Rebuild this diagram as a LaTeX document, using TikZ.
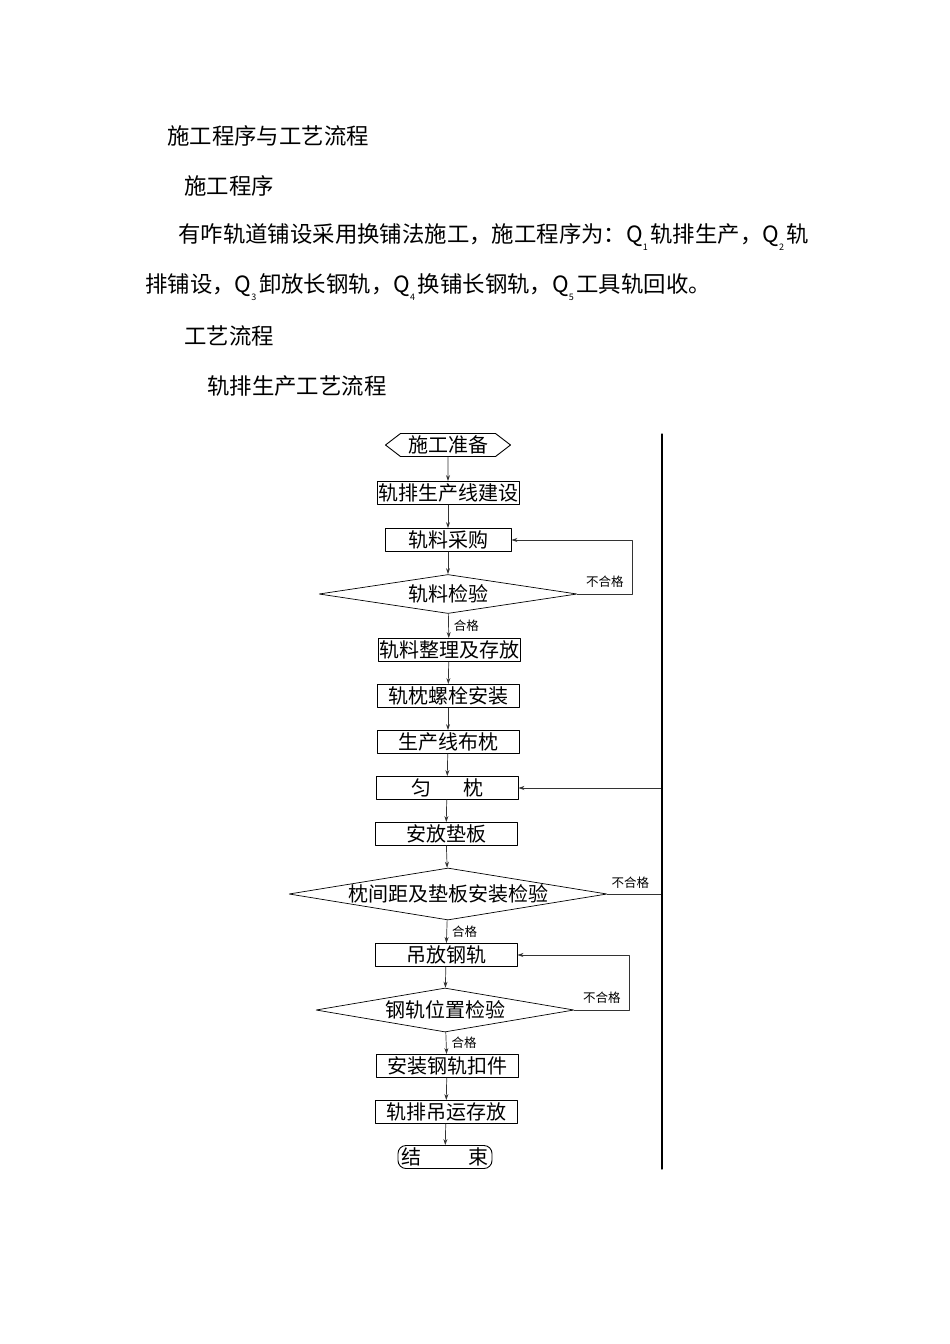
\documentclass[tikz,border=0pt]{standalone}
\usepackage{fontspec}
\setmainfont{Liberation Serif}
\newfontfamily\cjk{Noto Sans CJK SC}
\usetikzlibrary{shapes.geometric,shapes.symbols,arrows.meta}
% circled step number as printed: Q with a small lowered digit
\newcommand{\qnum}[1]{Q\raisebox{-0.35em}{\fontsize{9}{9}\selectfont #1}\kern0.12em}
\begin{document}
\begin{tikzpicture}[x=1pt,y=-1pt, line join=round, line cap=round,
	txt/.style={anchor=west, inner sep=0pt, font=\cjk\fontsize{22.4}{26}\selectfont},
	box/.style={draw, line width=0.9pt, inner sep=0pt, minimum width=142pt, minimum height=23pt, font=\cjk\fontsize{20}{24}\selectfont},
	hexa/.style={box, shape=signal, signal to=west and east, signal pointer angle=75, minimum width=125pt},
	chk/.style={draw, line width=0.7pt, shape=diamond, shape aspect=6, inner sep=0pt, font=\cjk\fontsize{20}{24}\selectfont},
	lbl/.style={inner sep=1pt, font=\cjk\fontsize{12.5}{14}\selectfont},
	arr/.style={draw=black!80, line width=0.7pt, -{Stealth[length=6pt,width=4pt]}}]
	\useasboundingbox (0,0) rectangle (950,1344);
	% text above the chart
	\node[txt] (t1) at (167,136) {施工程序与工艺流程};
	\node[txt] (t2) at (184,186) {施工程序};
	\node[txt] (t3) at (178,237) {有咋轨道铺设采用换铺法施工，施工程序为：\qnum{1}轨排生产，\qnum{2}轨};
	\node[txt] (t4) at (145,287) {排铺设，\qnum{3}卸放长钢轨，\qnum{4}换铺长钢轨，\qnum{5}工具轨回收。};
	\node[txt] (t5) at (184,336) {工艺流程};
	\node[txt] (t6) at (207,386) {轨排生产工艺流程};
	% flow chart
	\node[hexa] (prep) at (448,445) {施工准备};
	\node[box] (build) at (448,493) {轨排生产线建设};
	\node[box, minimum width=126pt] (buy) at (448,540) {轨料采购};
	\node[chk, minimum width=258pt, minimum height=39pt] (chk1) at (448,594) {轨料检验};
	\node[box] (sort) at (449,650) {轨料整理及存放};
	\node[box] (bolt) at (448,696) {轨枕螺栓安装};
	\node[box] (lay) at (448,742) {生产线布枕};
	\node[box] (even) at (447,788) {匀\hspace{1.6em}枕};
	\node[box] (pad) at (446,834) {安放垫板};
	\node[chk, minimum width=318pt, minimum height=52pt] (chk2) at (448,894) {枕间距及垫板安装检验};
	\node[box] (hang) at (446,955) {吊放钢轨};
	\node[chk, minimum width=258pt, minimum height=44pt] (chk3) at (445,1010) {钢轨位置检验};
	\node[box] (clip) at (447,1066) {安装钢轨扣件};
	\node[box] (store) at (446,1112) {轨排吊运存放};
	\node[box, rounded corners=8pt, minimum width=94pt] (end) at (445,1157) {结\hspace{2.4em}束};
	% main line
	\draw[arr] (prep) -- (build);
	\draw[arr] (build) -- (buy);
	\draw[arr] (buy) -- (chk1);
	\draw[arr] (chk1) -- node[right, lbl, xshift=4pt] {合格} (sort);
	\draw[arr] (sort) -- (bolt);
	\draw[arr] (bolt) -- (lay);
	\draw[arr] (lay) -- (even);
	\draw[arr] (even) -- (pad);
	\draw[arr] (pad) -- (chk2);
	\draw[arr] (chk2) -- node[right, lbl, xshift=4pt] {合格} (hang);
	\draw[arr] (hang) -- (chk3);
	\draw[arr] (chk3) -- node[right, lbl, xshift=4pt] {合格} (clip);
	\draw[arr] (clip) -- (store);
	\draw[arr] (store) -- (end);
	% loops back
	\draw[arr] (chk1.east) -- node[above, lbl, yshift=5pt] {不合格} ++(55,0) |- (buy.east);
	\draw[arr] (chk2.east) -- node[above, lbl, xshift=-4pt, yshift=4pt] {不合格} ++(54,0) |- (even.east);
	\draw[arr] (chk3.east) -- node[above, lbl, yshift=5pt] {不合格} ++(55,0) |- (hang.east);
	% rule at the right
	\coordinate (rtop) at (662,434);
	\coordinate (rbot) at (662,1169);
	\draw[line width=1.3pt] (rtop) -- (rbot);
\end{tikzpicture}
\end{document}
